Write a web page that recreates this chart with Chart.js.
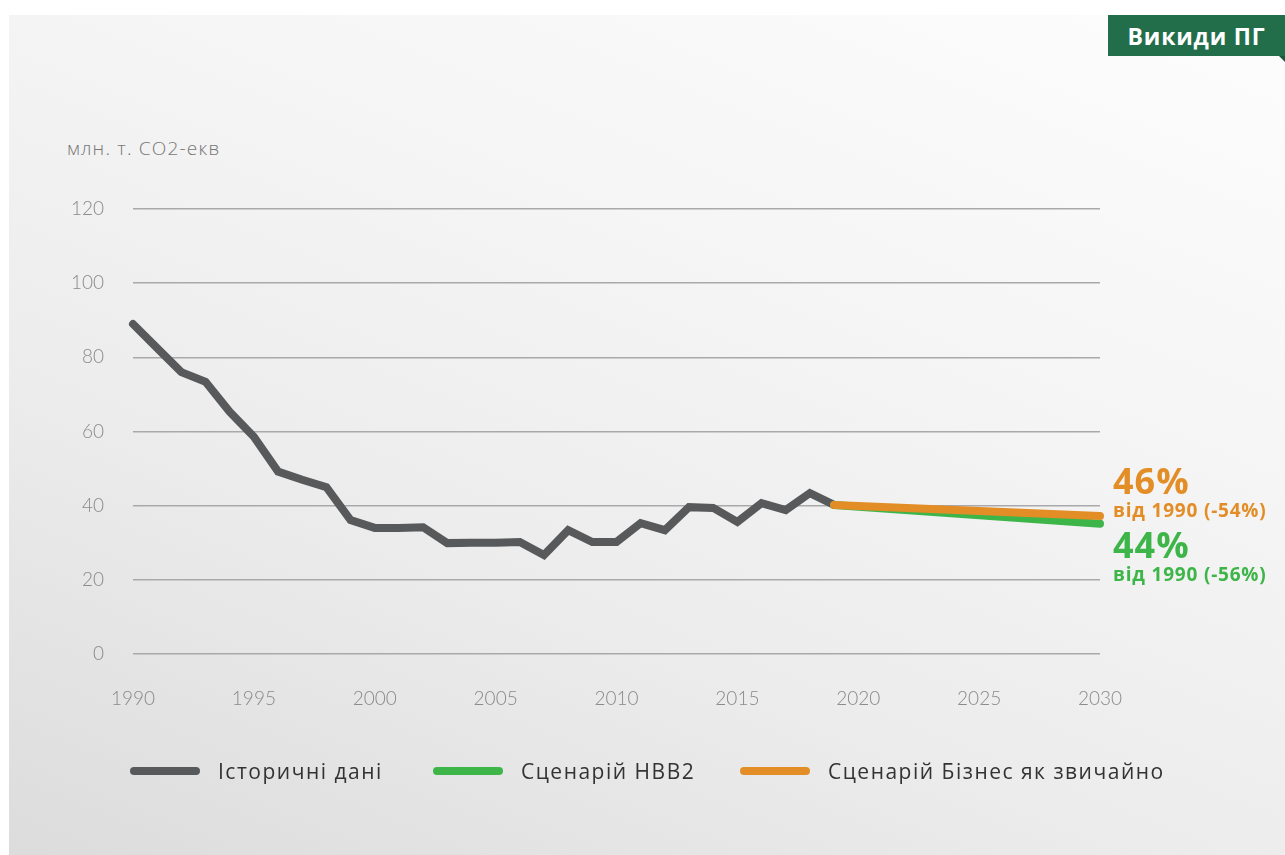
<!DOCTYPE html>
<html lang="uk">
<head>
<meta charset="utf-8">
<title>Викиди ПГ</title>
<script src="https://cdn.jsdelivr.net/npm/chart.js@4.4.1/dist/chart.umd.min.js"></script>
<style>
  html, body { margin:0; padding:0; background:#fff; }
  body { width:1285px; height:855px; position:relative; overflow:hidden; font-family:Lato, "Open Sans", sans-serif; }
  .card {
    position:absolute; left:9px; top:15px; right:0; bottom:0;
    background: linear-gradient(22deg, #dcdcdc 0%, #ececec 35%, #f5f5f5 65%, #fdfdfd 100%);
  }
  .badge {
    position:absolute; left:1108px; top:15px; width:177px; height:41px;
    background:#226e4b; color:#fff; font:700 23px "Open Sans", sans-serif;
    display:flex; align-items:center; justify-content:center; letter-spacing:.8px;
  }
  .badge-fold {
    position:absolute; left:1279px; top:56px; width:0; height:0;
    border-left:6px solid transparent; border-top:6px solid #1a5a3c;
  }
  .unit { position:absolute; left:67px; top:135px; font:300 19px "Open Sans", sans-serif; color:#777; letter-spacing:1.2px; }
  canvas { position:absolute; left:0; top:0; }
  .note { position:absolute; left:1113px; font-family:"Open Sans", sans-serif; font-weight:700; }
  .note .big { font-size:36px; line-height:34px; letter-spacing:1px; }
  .note .small { font-size:19px; line-height:24px; letter-spacing:.8px; }
  .legend { position:absolute; top:756px; left:0; height:30px; }
  .legend .item { position:absolute; top:0; display:flex; align-items:center; height:30px; white-space:nowrap; }
  .legend .sw { width:70px; height:8px; border-radius:4px; margin-right:18px; }
  .legend .lbl { font:400 21px "Open Sans", sans-serif; color:#333; letter-spacing:1.5px; }
</style>
</head>
<body>
<div class="card"></div>
<div class="badge">Викиди ПГ</div>
<div class="badge-fold"></div>
<div class="unit">млн. т. CO2-екв</div>
<canvas id="ghg" width="1285" height="855"></canvas>
<div class="note" style="top:464px;color:#e38d26"><div class="big">46%</div><div class="small">від 1990 (-54%)</div></div>
<div class="note" style="top:528px;color:#3db549"><div class="big">44%</div><div class="small">від 1990 (-56%)</div></div>
<div class="legend" id="legend"></div>
<script>
// historical emissions, mln t CO2-eq
const histYears = [1990,1991,1992,1993,1994,1995,1996,1997,1998,1999,2000,2001,2002,2003,2004,
                   2005,2006,2007,2008,2009,2010,2011,2012,2013,2014,2015,2016,2017,2018,2019];
const histValues = [89,82.5,76,73.4,65.3,58.6,49.2,47,45,36.1,34,34,34.2,29.9,30,
                    30,30.2,26.7,33.4,30.2,30.2,35.3,33.4,39.6,39.4,35.6,40.7,38.8,43.4,40.2];

// scenarios: start at 2019, end at 2030
const scenYears = [2019, 2030];
const nvv2Values = [40.2, 35.1];
const bauValues = [40.2, 37.2];

const yTicks = [0, 20, 40, 60, 80, 100, 120];
const xTicks = [1990, 1995, 2000, 2005, 2010, 2015, 2020, 2025, 2030];

const seriesNames = ['Історичні дані', 'Сценарій НВВ2', 'Сценарій Бізнес як звичайно'];
const seriesColors = ['#58595b', '#3db549', '#e38d26'];
const legendX = [130, 433, 740];

const toPts = (xs, ys) => xs.map((x, i) => ({x, y: ys[i]}));

const lineStyle = c => ({
  borderColor: c, backgroundColor: c, borderWidth: 8, pointRadius: 0,
  borderCapStyle: 'round', borderJoinStyle: 'miter', tension: 0, clip: false, fill: false
});

new Chart(document.getElementById('ghg'), {
  type: 'line',
  data: {
    datasets: [
      { label: seriesNames[0], data: toPts(histYears, histValues), ...lineStyle(seriesColors[0]), order: 3 },
      { label: seriesNames[1], data: toPts(scenYears, nvv2Values), ...lineStyle(seriesColors[1]), order: 2 },
      { label: seriesNames[2], data: toPts(scenYears, bauValues), ...lineStyle(seriesColors[2]), order: 1 }
    ]
  },
  options: {
    responsive: false,
    animation: false,
    layout: { padding: { left: 0, top: 209, right: 185, bottom: 141 } },
    plugins: { legend: { display: false }, tooltip: { enabled: false } },
    scales: {
      x: {
        type: 'linear', min: 1990, max: 2030,
        afterFit: s => { s.height = 60; },
        afterBuildTicks: s => { s.ticks = xTicks.map(v => ({value: v})); },
        grid: { display: false, drawTicks: false },
        border: { display: false },
        ticks: { padding: 33, color: '#8a8a8a', font: { family: 'Lato', weight: '300', size: 19 }, maxRotation: 0,
                 callback: v => String(v) }
      },
      y: {
        min: 0, max: 120,
        afterFit: s => { s.width = 133; },
        afterBuildTicks: s => { s.ticks = yTicks.map(v => ({value: v})); },
        grid: { color: '#a9a9ab', lineWidth: 1.5, drawTicks: false },
        border: { display: false },
        ticks: { padding: 29, color: '#8a8a8a', font: { family: 'Lato', weight: '300', size: 19 } }
      }
    }
  }
});

// html legend
const legend = document.getElementById('legend');
seriesNames.forEach((name, i) => {
  const item = document.createElement('div');
  item.className = 'item';
  item.style.left = legendX[i] + 'px';
  item.innerHTML = `<div class="sw" style="background:${seriesColors[i]}"></div><div class="lbl">${name}</div>`;
  legend.appendChild(item);
});
</script>
</body>
</html>
